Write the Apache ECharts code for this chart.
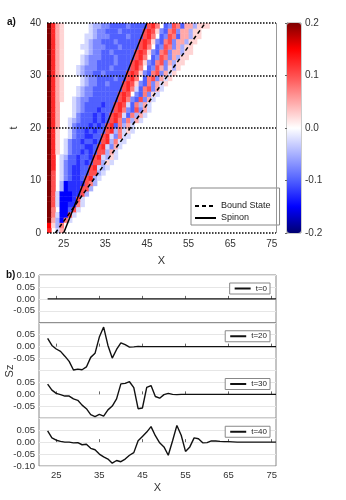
<!DOCTYPE html>
<html>
<head>
<meta charset="utf-8">
<script src="https://cdn.jsdelivr.net/npm/echarts@6.0.0/dist/echarts.min.js"></script>
<style>
html, body { margin: 0; padding: 0; background: #fff; }
#chart { width: 346px; height: 500px; }
</style>
</head>
<body>
<div id="chart"></div>
<script>
// panel a: Sz(x, t), one string per time row (t = 0 first), one letter per site from x = 21
const heatStartX = 21
const heatRows = [
  'nihk',
  'ojgl',
  'qkgclh',
  'qlhccmh',
  'qliccemh',
  'qmhccddlh',
  'qmhcccdmh',
  'qmhcccddmg',
  'qmigcdddmmg',
  'qmigcddddmlg',
  'qmihfeddemngh',
  'qmihfeddeemmgh',
  'qnihfeddeemnhgh',
  'qnihfeededemmgjh',
  'qnihgeedeedmnhgjh',
  'qnjihfeededemmgkh',
  'qnjihfeeeddemnhfkh',
  'qnjihfeedeedemnglhh',
  'qnjiihfeeddeemnhflhh',
  'qnjiihfeededeemnglhjh',
  'qnkiihfeeededemnelgkh',
  'qnkiihgfeeededemnlflgkh',
  'qnkiiihfeeededemnmhelgkh',
  'qnkiiihgfeeedeeemnlfemfkh',
  'qnkiiihgfeeeedeemnmhelgkh',
  'qnkjiihgffeeeeeeemnlfemfkh',
  'qnkjiiihgffeeeeeemnmifelfjh',
  'qnkjiiihgffeeeeeeemnlhelmfkh',
  'qnkjiiiihgffeefeeemnmjfelfkhj',
  'qnkjiiiihgffeeeefeemnlielmfkhj',
  'qnkjiiihgffeefeeeeemnmjfelmfkhj',
  'qnkjiiihgfffeeefeeeemnliefmkfjgj',
  'qnkjiiiihgffeeeefeeemnmjfelmfkgjj',
  'qnkjiiiihgfffeeefeeeemnliefmlfkgjj',
  'qnkjiiiiihgffeefeeeeemnmjfelmfkkgjj',
  'qnkjiiiihhgfffeeefeeeemnliefmlfkgjj',
  'qnkjiiiiihgffeeefeeeeemnmjfelmfkkgjj',
  'qnkjiiiiihhgfffeeeefeeemnliefmlekkgjj',
  'qnkjiiiiiihgffeeefeeeeemnmjfelmfkkgjj',
  'qnkjiiiiiihggffeeeefeeeemnliefmlekkgjjj'
]
// letter -> Sz value
const shade = {
  a: -0.2, b: -0.175, c: -0.15, d: -0.125, e: -0.1, f: -0.075, g: -0.05, h: -0.025, i: 0,
  j: 0.025, k: 0.05, l: 0.075, m: 0.1, n: 0.125, o: 0.15, p: 0.175, q: 0.2
}

const spinonLine = [[25, 0], [45, 40]]
const boundLine = [[23, 0], [59, 40]]
const xTicks = [25, 35, 45, 55, 65, 75]

// panel b: Sz(x) cuts
const sites = [23, 24, 25, 26, 27, 28, 29, 30, 31, 32, 33, 34, 35, 36, 37, 38, 39, 40, 41, 42,
  43, 44, 45, 46, 47, 48, 49, 50, 51, 52, 53, 54, 55, 56, 57, 58, 59, 60, 61, 62,
  63, 64, 65, 66, 67, 68, 69, 70, 71, 72, 73, 74, 75, 76]
const szT0 = [0, 0, 0, 0, 0, 0, 0, 0, 0, 0, 0, 0, 0, 0, 0, 0, 0, 0, 0, 0,
  0, 0, 0, 0, 0, 0, 0, 0, 0, 0, 0, 0, 0, 0, 0, 0, 0, 0, 0, 0,
  0, 0, 0, 0, 0, 0, 0, 0, 0, 0, 0, 0, 0, 0]
const szT20 = [0.035, 0.005, -0.01, -0.02, -0.04, -0.062, -0.098, -0.094, -0.097, -0.085,
  -0.045, -0.028, 0.04, 0.082, 0.005, -0.048, -0.012, 0.016, 0.008, -0.002,
  -0.001, 0.001, 0, 0, 0, 0, 0, 0, 0, 0, 0, 0, 0, 0, 0, 0, 0, 0, 0, 0,
  0, 0, 0, 0, 0, 0, 0, 0, 0, 0, 0, 0, 0, 0]
const szT30 = [0.043, 0.018, 0.004, -0.001, -0.007, -0.007, -0.019, -0.025, -0.045, -0.06,
  -0.085, -0.093, -0.084, -0.091, -0.065, -0.049, -0.019, 0.044, 0.046, 0.053,
  0.028, -0.06, -0.057, 0.029, 0.037, -0.009, -0.016, -0.001, 0.004, 0,
  -0.001, 0, 0, 0, 0, 0, 0, 0, 0, 0, 0, 0, 0, 0, 0, 0, 0, 0, 0, 0, 0, 0, 0, 0]
const szT40 = [0.047, 0.018, 0.008, 0.003, 0, 0, -0.003, -0.002, -0.011, -0.009,
  -0.026, -0.032, -0.05, -0.062, -0.071, -0.088, -0.077, -0.082, -0.071, -0.055,
  -0.044, 0.006, 0.024, 0.042, 0.065, 0.027, -0.003, -0.02, -0.055, 0.006,
  0.07, 0.029, -0.039, -0.02, 0.018, 0.014, -0.003, -0.002, 0.005, 0.005,
  0.003, 0.002, 0.002, 0.001, 0, 0, 0, 0, 0, 0, 0, 0, 0, 0]
const cutNames = ['t=0', 't=20', 't=30', 't=40']
const cutValues = [szT0, szT20, szT30, szT40]

const font = 'Liberation Sans, Arial, sans-serif'
const txt = '#333'

const heatData = []
heatRows.forEach((row, t) => {
  row.split('').forEach((ch, i) => {
    if (shade[ch] !== 0) heatData.push([heatStartX + i, t, shade[ch]])
  })
})

const renderCell = (params, api) => {
  const a = api.coord([api.value(0), api.value(1) + 1])
  const b = api.coord([api.value(0) + 1, api.value(1)])
  return {
    type: 'rect',
    shape: { x: a[0], y: a[1], width: b[0] - a[0] + 0.4, height: b[1] - a[1] + 0.4 },
    style: { fill: api.visual('color') }
  }
}

const cutTop = 275
const cutH = 47.75

const grids = [
  { left: 39, top: 23, width: 237, height: 210 },
  { left: 287, top: 23, width: 14, height: 210, show: true, borderColor: '#999', borderWidth: 1 }
]
const xAxes = [
  {
    type: 'value', gridIndex: 0, min: 21, max: 76,
    axisLine: { show: false }, axisTick: { show: false }, splitLine: { show: false },
    axisLabel: { customValues: xTicks, fontSize: 10, color: txt, margin: 6, fontFamily: font },
    name: 'X', nameLocation: 'middle', nameGap: 22,
    nameTextStyle: { fontSize: 11, color: txt, fontFamily: font }
  },
  { type: 'value', gridIndex: 1, min: 0, max: 1, show: false }
]
const yAxes = [
  {
    type: 'value', gridIndex: 0, min: 0, max: 40, interval: 10,
    axisLine: { show: false }, axisTick: { show: false }, splitLine: { show: false },
    axisLabel: { fontSize: 10, color: txt, margin: 6, fontFamily: font },
    name: 't', nameLocation: 'middle', nameGap: 26, nameRotate: 90,
    nameTextStyle: { fontSize: 11, color: txt, fontFamily: font }
  },
  {
    type: 'value', gridIndex: 1, min: -0.2, max: 0.2, interval: 0.1, position: 'right',
    axisLine: { show: true, lineStyle: { color: '#999' } },
    axisTick: { show: true, inside: true, length: 2, lineStyle: { color: '#666' } },
    splitLine: { show: false },
    axisLabel: { fontSize: 10, color: txt, margin: 4, fontFamily: font, formatter: v => v.toFixed(1) }
  }
]
const series = [
  {
    type: 'custom', xAxisIndex: 0, yAxisIndex: 0, renderItem: renderCell,
    dimensions: ['x', 't', 'sz'], encode: { x: 0, y: 1 }, data: heatData, clip: true, silent: true
  },
  {
    name: 'Bound State', type: 'line', xAxisIndex: 0, yAxisIndex: 0, data: boundLine,
    symbol: 'none', lineStyle: { color: '#000', width: 1.5, type: [4, 3] }, itemStyle: { color: '#000' }
  },
  {
    name: 'Spinon', type: 'line', xAxisIndex: 0, yAxisIndex: 0, data: spinonLine,
    symbol: 'none', lineStyle: { color: '#000', width: 1.5 }, itemStyle: { color: '#000' },
    markLine: {
      silent: true, symbol: 'none', label: { show: false },
      lineStyle: { color: '#000', type: [1.5, 1.5], width: 1.5 },
      data: [
        { yAxis: 0 }, { yAxis: 20 }, { yAxis: 30 }, { yAxis: 40 },
        { xAxis: 76, lineStyle: { color: '#999', type: 'solid', width: 1 } }
      ]
    }
  }
]
const legends = [
  {
    data: ['Bound State', 'Spinon'], orient: 'vertical', left: 191, top: 188,
    padding: [12, 9, 1, 3], itemGap: 0, itemWidth: 21, itemHeight: 8,
    itemStyle: { opacity: 0 },
    borderColor: '#888', borderWidth: 1, backgroundColor: '#fff',
    textStyle: { fontSize: 9, lineHeight: 12, color: '#222', fontFamily: font }
  }
]

cutValues.forEach((vals, k) => {
  const gi = k + 2
  const last = k === cutValues.length - 1
  const top = cutTop + k * cutH
  grids.push({ left: 39, top: top, width: 237, height: cutH, show: true, borderColor: '#888', borderWidth: 1 })
  xAxes.push({
    type: 'value', gridIndex: gi, min: 21, max: 76,
    axisLine: { show: false }, splitLine: { show: false },
    axisTick: { show: true, inside: true, length: 3, customValues: xTicks, lineStyle: { color: '#666' } },
    axisLabel: { show: last, customValues: xTicks, fontSize: 9.5, color: txt, margin: 4, fontFamily: font },
    name: last ? 'X' : '', nameLocation: 'middle', nameGap: 16,
    nameTextStyle: { fontSize: 11, color: txt, fontFamily: font }
  })
  yAxes.push({
    type: 'value', gridIndex: gi, min: -0.1, max: 0.1, interval: 0.05,
    axisLine: { show: false }, axisTick: { show: false },
    splitLine: { show: true, lineStyle: { color: '#e6e6e6', width: 1 } },
    axisLabel: {
      fontSize: 9.5, color: txt, margin: 4, fontFamily: font,
      showMinLabel: last, showMaxLabel: k === 0,
      formatter: v => v.toFixed(2)
    }
  })
  series.push({
    name: cutNames[k], type: 'line', xAxisIndex: gi, yAxisIndex: gi,
    data: sites.map((x, i) => [x, vals[i]]),
    symbol: 'none', lineStyle: { color: '#111', width: 1.4 }, itemStyle: { color: '#111' }
  })
  legends.push({
    data: [cutNames[k]], right: 76, top: top + 8, orient: 'vertical',
    padding: [1, 3, 1, 4], itemWidth: 16, itemHeight: 6,
    itemStyle: { opacity: 0 },
    borderColor: '#888', borderWidth: 1, backgroundColor: '#fff',
    textStyle: { fontSize: 8, lineHeight: 9, color: '#222', fontFamily: font }
  })
})

const chart = echarts.init(document.getElementById('chart'))
chart.setOption({
  animation: false,
  backgroundColor: '#fff',
  textStyle: { fontFamily: font },
  grid: grids,
  xAxis: xAxes,
  yAxis: yAxes,
  legend: legends,
  visualMap: {
    type: 'continuous', seriesIndex: 0, dimension: 2, min: -0.2, max: 0.2,
    left: 287, top: 23, itemWidth: 14, itemHeight: 210, padding: 0,
    calculable: false, hoverLink: false, text: null,
    inRange: { color: ['#000070', '#0000ff', '#5060ff', '#a8b0ff', '#ffffff', '#ffa8a8', '#ff4f4f', '#ff0000', '#7f0000'] }
  },
  graphic: [
    { type: 'text', left: 7, top: 17, style: { text: 'a)', font: 'bold 10px ' + font, fill: '#111' } },
    { type: 'text', left: 6, top: 270, style: { text: 'b)', font: 'bold 10px ' + font, fill: '#111' } },
    {
      type: 'text', x: 10, y: 371, rotation: Math.PI / 2,
      style: { text: 'Sz', font: '11px ' + font, fill: txt, align: 'center', verticalAlign: 'middle' }
    }
  ],
  series: series
})
</script>
</body>
</html>
